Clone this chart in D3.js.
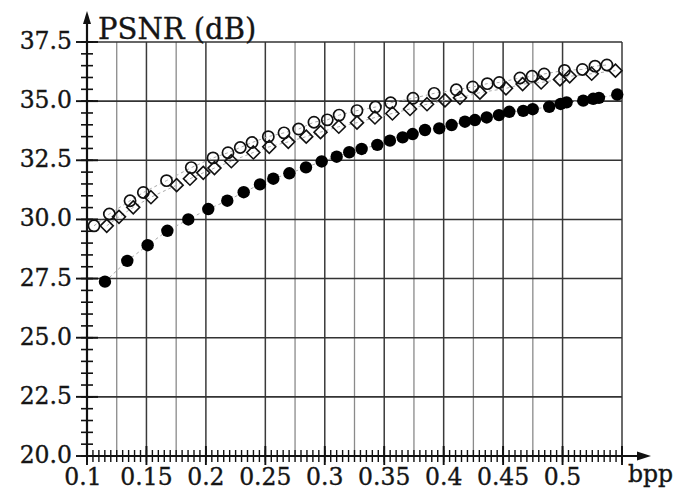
<!DOCTYPE html>
<html><head><meta charset="utf-8">
<script src="https://cdn.jsdelivr.net/npm/d3@7"></script>
<style>body{margin:0;background:#fff}svg{display:block}</style>
</head><body><svg id="c" width="679" height="490"></svg>
<script>
// ---- data ----
const filledX = [0.1151,0.1339,0.151,0.1676,0.1852,0.202,0.218,0.2318,0.2455,0.2567,0.2702,0.2842,0.2974,0.31,0.3206,0.331,0.3442,0.3548,0.3655,0.3739,0.3843,0.3963,0.4067,0.4179,0.4263,0.4362,0.4465,0.4552,0.4669,0.4749,0.4888,0.4984,0.5034,0.5174,0.5258,0.5306,0.546];
const filledY = [27.37,28.25,28.91,29.52,30.0,30.44,30.79,31.15,31.48,31.72,31.95,32.2,32.45,32.65,32.84,32.98,33.15,33.33,33.47,33.61,33.78,33.85,33.99,34.13,34.2,34.31,34.41,34.55,34.59,34.66,34.76,34.88,34.95,35.02,35.1,35.14,35.28];
const circleX = [0.1059,0.1188,0.1362,0.1474,0.1669,0.1877,0.206,0.2186,0.2289,0.2388,0.2525,0.2657,0.278,0.2909,0.3021,0.3121,0.3271,0.3426,0.3554,0.3742,0.392,0.4106,0.4244,0.4367,0.4468,0.4642,0.4743,0.4845,0.5016,0.5167,0.5273,0.5373];
const circleY = [29.73,30.23,30.79,31.14,31.64,32.19,32.6,32.82,33.04,33.25,33.5,33.66,33.82,34.11,34.21,34.41,34.6,34.75,34.93,35.12,35.33,35.48,35.6,35.74,35.79,35.98,36.05,36.15,36.3,36.34,36.48,36.53];
const diamondX = [0.1166,0.1269,0.1389,0.1538,0.1754,0.1866,0.1978,0.2072,0.2214,0.2399,0.2533,0.2693,0.2844,0.2964,0.3118,0.3271,0.3422,0.3569,0.3717,0.386,0.4011,0.4137,0.4305,0.4524,0.4664,0.482,0.4978,0.506,0.5245,0.5445];
const diamondY = [29.73,30.11,30.51,30.94,31.45,31.72,31.97,32.17,32.46,32.83,33.07,33.28,33.5,33.69,33.92,34.09,34.31,34.48,34.67,34.87,35.03,35.14,35.36,35.54,35.72,35.79,35.92,36.05,36.16,36.29];
const xTickValues = [0.1,0.15,0.2,0.25,0.3,0.35,0.4,0.45,0.5];
const xTickLabels = ["0.1","0.15","0.2","0.25","0.3","0.35","0.4","0.45","0.5"];
const yTickValues = [20,22.5,25,27.5,30,32.5,35,37.5];
const yTickLabels = ["20.0","22.5","25.0","27.5","30.0","32.5","35.0","37.5"];
const xMajorGrid = [0.15,0.2,0.25,0.3,0.35,0.4,0.45,0.5,0.55];
const xMinorGrid = [0.125,0.175,0.275,0.325,0.375,0.425,0.475];
const xTitle = "bpp", yTitle = "PSNR (dB)";

// ---- drawing ----
const svg = d3.select("#c");
const x = d3.scaleLinear().domain([0.1,0.55]).range([87,622]);
const y = d3.scaleLinear().domain([20,37.5]).range([456,42]);
const font = "'DejaVu Serif', serif";
const ink = "#151515";

// grid
svg.append("g").selectAll("line").data(xMinorGrid).join("line")
  .attr("x1",d=>x(d)).attr("x2",d=>x(d)).attr("y1",y(20)).attr("y2",y(37.5))
  .attr("stroke","#8a8a8a").attr("stroke-width",1.3);
svg.append("g").selectAll("line").data(xMajorGrid).join("line")
  .attr("x1",d=>x(d)).attr("x2",d=>x(d)).attr("y1",y(20)).attr("y2",y(37.5))
  .attr("stroke","#3a3a3a").attr("stroke-width",1.5);
svg.append("g").selectAll("line").data(yTickValues.slice(1)).join("line")
  .attr("x1",x(0.1)).attr("x2",x(0.55)).attr("y1",d=>y(d)).attr("y2",d=>y(d))
  .attr("stroke","#333").attr("stroke-width",1.6);

// axis ticks
const xMinorTicks = d3.range(0,91).map(i=>0.1+i*0.005);
svg.append("g").selectAll("line").data(xMinorTicks).join("line")
  .attr("x1",d=>x(d)).attr("x2",d=>x(d)).attr("y1",y(20)-6).attr("y2",y(20)+6)
  .attr("stroke","#111").attr("stroke-width",1.4);
svg.append("g").selectAll("line").data(xMajorGrid.concat([0.1])).join("line")
  .attr("x1",d=>x(d)).attr("x2",d=>x(d)).attr("y1",y(20)-10).attr("y2",y(20)+9)
  .attr("stroke","#111").attr("stroke-width",1.9);
const yMinorTicks = d3.range(0,36).map(i=>20+i*0.5);
svg.append("g").selectAll("line").data(yMinorTicks).join("line")
  .attr("x1",x(0.1)-6).attr("x2",x(0.1)+6).attr("y1",d=>y(d)).attr("y2",d=>y(d))
  .attr("stroke","#111").attr("stroke-width",1.6);
svg.append("g").selectAll("line").data(yTickValues).join("line")
  .attr("x1",x(0.1)-11).attr("x2",x(0.1)+11).attr("y1",d=>y(d)).attr("y2",d=>y(d))
  .attr("stroke","#111").attr("stroke-width",1.9);

// axis lines with arrows
svg.append("line").attr("x1",x(0.1)).attr("x2",x(0.1)).attr("y1",y(20)).attr("y2",20)
  .attr("stroke","#111").attr("stroke-width",2.2);
svg.append("path").attr("d",`M${x(0.1)},11 L${x(0.1)-4},24 L${x(0.1)+4},24 Z`).attr("fill","#111");
svg.append("line").attr("x1",x(0.1)).attr("x2",640).attr("y1",y(20)).attr("y2",y(20))
  .attr("stroke","#111").attr("stroke-width",2.2);
svg.append("path").attr("d",`M651,${y(20)} L637,${y(20)-4.5} L637,${y(20)+4.5} Z`).attr("fill","#111");

// tick labels
svg.append("g").selectAll("text").data(xTickValues).join("text")
  .attr("x",d=>x(d)-(d===0.1?4:0)).attr("y",y(20)+29).attr("text-anchor","middle")
  .attr("font-family",font).attr("font-size",23.5).attr("fill",ink)
  .attr("stroke",ink).attr("stroke-width",0.35)
  .text((d,i)=>xTickLabels[i]);
svg.append("g").selectAll("text").data(yTickValues).join("text")
  .attr("x",72).attr("y",d=>y(d)+7).attr("text-anchor","end")
  .attr("font-family",font).attr("font-size",23.5).attr("fill",ink)
  .attr("stroke",ink).attr("stroke-width",0.35)
  .text((d,i)=>yTickLabels[i]);
svg.append("text").attr("x",98).attr("y",39).attr("font-family",font).attr("font-size",29)
  .attr("fill",ink).attr("stroke",ink).attr("stroke-width",0.35).text(yTitle);
svg.append("text").attr("x",628).attr("y",482).attr("font-family",font).attr("font-size",23.5)
  .attr("fill",ink).attr("stroke",ink).attr("stroke-width",0.35).text(xTitle);

// series connecting dashed lines
function series(xs, ys){ return xs.map((v,i)=>[v,ys[i]]); }
const line = d3.line().x(d=>x(d[0])).y(d=>y(d[1]));
[[filledX,filledY],[circleX,circleY],[diamondX,diamondY]].forEach(([xs,ys])=>{
  svg.append("path").attr("d",line(series(xs,ys))).attr("fill","none")
    .attr("stroke","#aaa").attr("stroke-width",1).attr("stroke-dasharray","3,3");
});

// markers
svg.append("g").selectAll("circle").data(series(filledX,filledY)).join("circle")
  .attr("cx",d=>x(d[0])).attr("cy",d=>y(d[1])).attr("r",6.2).attr("fill","#000");
svg.append("g").selectAll("circle").data(series(circleX,circleY)).join("circle")
  .attr("cx",d=>x(d[0])).attr("cy",d=>y(d[1])).attr("r",5.6).attr("fill","none")
  .attr("stroke","#111").attr("stroke-width",1.7);
const dsz = 6.5;
svg.append("g").selectAll("path").data(series(diamondX,diamondY)).join("path")
  .attr("d",d=>{const cx=x(d[0]),cy=y(d[1]);return `M${cx},${cy-dsz} L${cx+dsz},${cy} L${cx},${cy+dsz} L${cx-dsz},${cy} Z`;})
  .attr("fill","none").attr("stroke","#111").attr("stroke-width",1.6);
</script></body></html>
